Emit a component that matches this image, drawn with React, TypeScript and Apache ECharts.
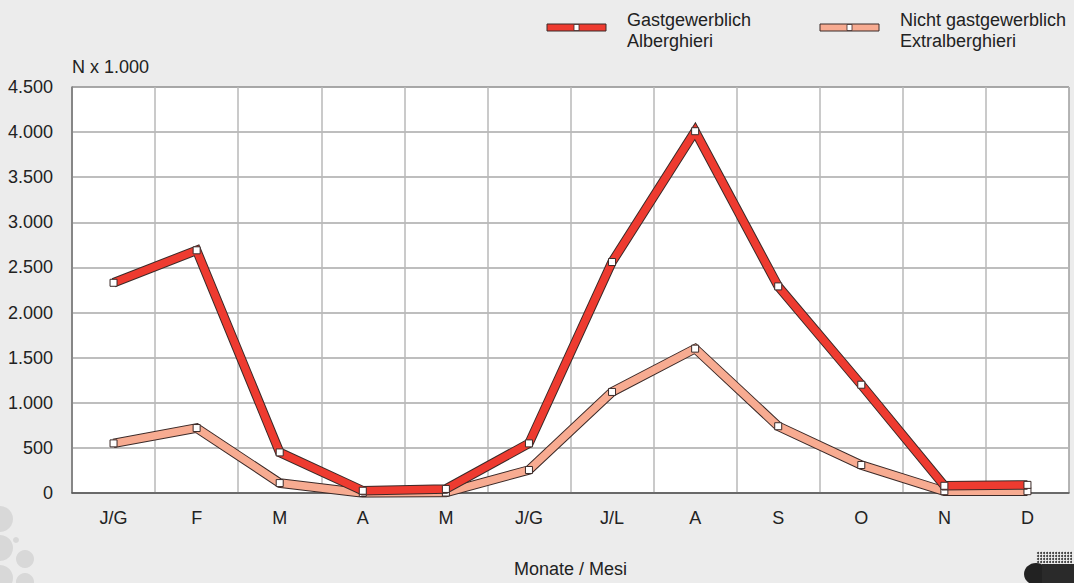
import React, { useEffect, useRef } from "react";
import * as echarts from "echarts";

const months = ["J/G", "F", "M", "A", "M", "J/G", "J/L", "A", "S", "O", "N", "D"];
const alberghieri = [2330, 2690, 450, 25, 45, 550, 2560, 4010, 2290, 1200, 80, 90];
const extralberghieri = [550, 720, 110, 0, 5, 255, 1120, 1600, 740, 310, 20, 20];
const legendNames = ["Gastgewerblich\nAlberghieri", "Nicht gastgewerblich\nExtralberghieri"];
const yAxisName = "N x 1.000";
const xAxisName = "Monate / Mesi";

const RED = "#ee3b30";
const PINK = "#f7ab91";
const OUTLINE = "#3b2a28";
const FONT = "Liberation Sans, Arial, sans-serif";
const FS = 18;

function fmt(v: number) {
  const s = String(v);
  if (v >= 1000) return s.slice(0, s.length - 3) + "." + s.slice(s.length - 3);
  return s;
}

function bandSeries(name: string, data: number[], color: string, z: number) {
  return [
    {
      name: name + "_outline",
      type: "line",
      data,
      z,
      symbol: "none",
      silent: true,
      lineStyle: { color: OUTLINE, width: 9.5, join: "miter", cap: "butt" },
    },
    {
      name,
      type: "line",
      data,
      z: z + 1,
      symbol: "rect",
      symbolSize: 7,
      itemStyle: { color: "#ffffff", borderColor: OUTLINE, borderWidth: 1 },
      lineStyle: { color, width: 7.5, join: "miter", cap: "butt" },
    },
  ];
}

function legendItem(x: number, label: string, color: string) {
  return [
    {
      type: "rect",
      shape: { x, y: 24, width: 59, height: 7 },
      style: { fill: color, stroke: OUTLINE, lineWidth: 1 },
    },
    {
      type: "rect",
      shape: { x: x + 27, y: 24.5, width: 5, height: 6 },
      style: { fill: "#ffffff", stroke: OUTLINE, lineWidth: 0.8 },
    },
    {
      type: "text",
      x: x + 80,
      y: 9,
      style: { text: label, font: `${FS}px ${FONT}`, fill: "#222", lineHeight: 21 },
    },
  ];
}

function decorations() {
  const els: any[] = [];
  const grey = "#d8d8d8";
  [
    [0, 519, 13],
    [0, 548, 13],
    [16, 540, 3],
    [25, 559, 9],
    [0, 578, 13],
    [25, 582, 9],
  ].forEach(([cx, cy, r]) => els.push({ type: "circle", shape: { cx, cy, r }, style: { fill: grey } }));
  els.push({ type: "ellipse", shape: { cx: 1036, cy: 574, rx: 12, ry: 11 }, style: { fill: "#222" } });
  els.push({ type: "rect", shape: { x: 1042, y: 564, width: 32, height: 19 }, style: { fill: "#2a2a2a" } });
  for (let row = 0; row < 4; row++) {
    for (let col = 0; col < 12; col++) {
      els.push({
        type: "circle",
        shape: { cx: 1038 + col * 3, cy: 553 + row * 3, r: 1 },
        style: { fill: "#333" },
      });
    }
  }
  return els;
}

export default function App() {
  const ref = useRef<HTMLDivElement>(null);
  useEffect(() => {
    if (!ref.current) return;
    const chart = echarts.init(ref.current, undefined, { renderer: "svg" });
    chart.setOption({
      animation: false,
      backgroundColor: "#ececec",
      textStyle: { fontFamily: FONT },
      grid: {
        left: 72,
        right: 5,
        top: 87,
        bottom: 90,
        containLabel: false,
        outerBoundsMode: "none",
        show: true,
        backgroundColor: "#ffffff",
        borderColor: "#555",
        borderWidth: 1,
      },
      xAxis: {
        type: "category",
        data: months,
        boundaryGap: true,
        name: xAxisName,
        nameLocation: "middle",
        nameGap: 67,
        nameTextStyle: { fontSize: FS, color: "#222", fontFamily: FONT },
        axisLine: { lineStyle: { color: "#555", width: 1.5 } },
        axisTick: { show: false },
        axisLabel: { fontSize: FS, color: "#222", margin: 16, fontFamily: FONT },
        splitLine: { show: true, lineStyle: { color: "#b8b8b8", width: 1.5 } },
      },
      yAxis: {
        type: "value",
        min: 0,
        max: 4500,
        interval: 500,
        name: yAxisName,
        nameLocation: "end",
        nameGap: 11,
        nameTextStyle: { fontSize: FS, color: "#222", align: "left", fontFamily: FONT },
        axisLine: { show: true, lineStyle: { color: "#777", width: 1.5 } },
        axisTick: { show: false },
        axisLabel: { fontSize: FS, color: "#222", margin: 19, formatter: (v: number) => fmt(v), fontFamily: FONT },
        splitLine: { show: true, lineStyle: { color: "#a8a8a8", width: 1.5 } },
      },
      series: [
        ...bandSeries("Extralberghieri", extralberghieri, PINK, 2),
        ...bandSeries("Alberghieri", alberghieri, RED, 4),
      ],
      graphic: [
        ...decorations(),
        ...legendItem(547, legendNames[0], RED),
        ...legendItem(820, legendNames[1], PINK),
      ],
    });
    return () => chart.dispose();
  }, []);
  return (
    <div
      ref={ref}
      style={{ position: "fixed", left: 0, top: 0, width: 1074, height: 583 }}
    />
  );
}
